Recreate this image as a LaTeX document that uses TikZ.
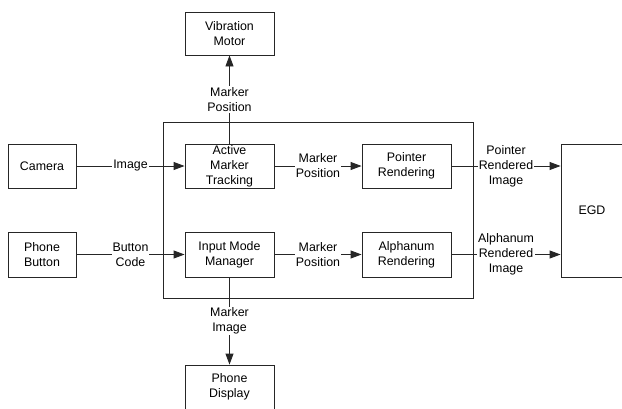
\documentclass[tikz,border=0pt]{standalone}
\usepackage{fontspec}
\setmainfont{Liberation Sans}
\usetikzlibrary{arrows.meta}
\begin{document}
\begin{tikzpicture}[x=1pt,y=-1pt,
  every node/.style={font=\fontsize{12.4}{15}\selectfont},
  blk/.style={draw=black!85, line width=0.9pt, align=center, inner sep=0pt, minimum width=89pt, minimum height=44pt},
  sblk/.style={blk, minimum width=68pt},
  conn/.style={draw=black!85, line width=0.9pt, -{Triangle[length=11pt,width=8pt]}},
  lbl/.style={fill=white, align=center, inner sep=1pt}]
\useasboundingbox (0,0) rectangle (622,408);
\clip (0,0) rectangle (622,408);
\node[blk, minimum width=310pt, minimum height=176pt] (core) at (318,210) {};
\node[blk, minimum height=43pt] (vm) at (229.5,33.5) {Vibration\\Motor};
\node[sblk] (cam) at (42,166) {Camera};
\node[blk] (amt) at (229.5,166) {Active\\Marker\\Tracking};
\node[blk] (pr) at (406.5,166) {Pointer\\Rendering};
\node[sblk, minimum height=45pt] (pb) at (42,254.5) {Phone\\Button};
\node[blk, minimum height=45pt] (imm) at (229.5,254.5) {Input Mode\\Manager};
\node[blk, minimum height=45pt] (ar) at (406.5,254.5) {Alphanum\\Rendering};
\node[blk, minimum width=62pt, minimum height=133pt] (egd) at (592,210.5) {EGD};
\node[blk] (pd) at (229.5,387) {Phone\\Display};
\draw[conn] (cam) -- node[lbl] {Image} (amt);
\draw[conn] (pb) -- node[lbl] {Button\\Code} (imm);
\draw[conn] (amt) -- node[lbl] {Marker\\Position} (pr);
\draw[conn] (imm) -- node[lbl] {Marker\\Position} (ar);
\draw[conn] (pr.east) -- node[lbl] {Pointer\\Rendered\\Image} (pr.east -| egd.west);
\draw[conn] (ar.east) -- node[lbl] {Alphanum\\Rendered\\Image} (ar.east -| egd.west);
\draw[conn] (amt) -- node[lbl] {Marker\\Position} (vm);
\draw[conn] (imm) -- node[lbl] {Marker\\Image} (pd);
\end{tikzpicture}
\end{document}
